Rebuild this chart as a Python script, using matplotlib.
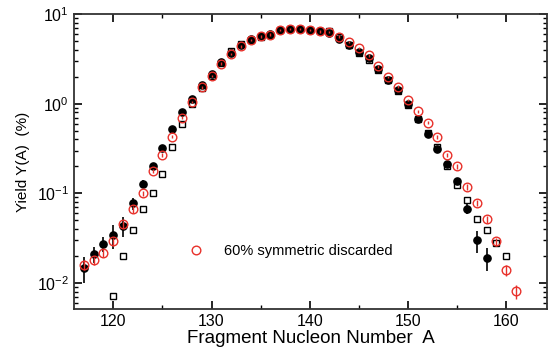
import numpy as np
import matplotlib
matplotlib.use('Agg')
import matplotlib.pyplot as plt
from matplotlib.lines import Line2D

plt.rcParams['font.family'] = ['Liberation Sans', 'DejaVu Sans']
plt.rcParams['mathtext.fontset'] = 'custom'
plt.rcParams['mathtext.rm'] = 'Liberation Sans'
plt.rcParams['mathtext.it'] = 'Liberation Sans'

# Rendements par nombre de masse A
A_red = list(range(117, 162))
Y_red = [0.016, 0.0178, 0.0218, 0.029, 0.045, 0.066, 0.10, 0.176, 0.27, 0.43,
         0.70, 1.05, 1.52, 2.05, 2.8, 3.58, 4.36, 5.17, 5.63, 5.9,
         6.6, 6.8, 6.85, 6.7, 6.4, 6.3, 5.6, 4.85, 4.15, 3.45,
         2.6, 1.98, 1.55, 1.1, 0.82, 0.61, 0.43, 0.27, 0.2, 0.118,
         0.078, 0.051, 0.029, 0.0139, 0.0081]
err_red = [0.12, 0.1, 0.1, 0.1, 0.1, 0.08, 0.06, 0.05, 0.05, 0.04,
           0.04, 0.03, 0.03, 0.03, 0.03, 0.03, 0.03, 0.03, 0.03, 0.03,
           0.03, 0.03, 0.03, 0.03, 0.03, 0.03, 0.03, 0.03, 0.03, 0.03,
           0.03, 0.03, 0.03, 0.03, 0.04, 0.04, 0.05, 0.05, 0.06, 0.07,
           0.08, 0.08, 0.1, 0.15, 0.18]

A_blk = list(range(117, 159))
Y_blk = [0.0148, 0.021, 0.0273, 0.034, 0.043, 0.077, 0.128, 0.2, 0.32, 0.52,
         0.81, 1.12, 1.6, 2.15, 2.9, 3.7, 4.5, 5.3, 5.75, 6.0,
         6.7, 6.9, 6.9, 6.7, 6.5, 6.2, 5.3, 4.5, 3.8, 3.2,
         2.45, 1.85, 1.42, 0.98, 0.67, 0.46, 0.31, 0.21, 0.136, 0.067,
         0.030, 0.019]
err_blk = [0.32, 0.2, 0.2, 0.3, 0.25, 0.15, 0.1, 0.06, 0.05, 0.05,
           0.04, 0.04, 0.04, 0.04, 0.04, 0.04, 0.04, 0.04, 0.04, 0.04,
           0.04, 0.04, 0.04, 0.04, 0.04, 0.04, 0.04, 0.04, 0.04, 0.04,
           0.04, 0.04, 0.04, 0.04, 0.04, 0.05, 0.05, 0.06, 0.08, 0.12,
           0.28, 0.28]

A_sq = list(range(120, 161))
Y_sq = [0.0071, 0.020, 0.039, 0.066, 0.101, 0.166, 0.33, 0.60, 1.0, 1.5,
        2.05, 2.85, 3.9, 4.6, 5.2, 5.6, 5.85, 6.6, 6.85, 6.85,
        6.7, 6.5, 6.4, 5.5, 4.5, 3.7, 3.1, 2.4, 1.85, 1.4,
        0.97, 0.68, 0.47, 0.33, 0.2, 0.125, 0.085, 0.052, 0.039, 0.0275,
        0.020]

fig = plt.figure(figsize=(5.48, 3.52), dpi=100)
ax = fig.add_axes([0.135, 0.122, 0.864, 0.838])

yb = np.array(Y_blk)
ax.errorbar(A_blk, yb, yerr=yb * np.array(err_blk), fmt='o', color='black',
            markersize=5.2, elinewidth=1.2, capsize=0, zorder=2)
ax.plot(A_sq, Y_sq, 's', mfc='none', mec='black', markersize=5, mew=1.0, zorder=3)
yr = np.array(Y_red)
ax.errorbar(A_red, yr, yerr=yr * np.array(err_red), fmt='o', mfc='none',
            mec='#e8302a', ecolor='#e8302a', markersize=6.2, mew=1.0,
            elinewidth=1.0, capsize=0, zorder=4)

ax.set_yscale('log')
ax.set_xlim(116.0, 164.2)
ax.set_ylim(0.0051, 10)
ax.set_xticks([120, 130, 140, 150, 160])
ax.set_xticks(np.arange(125, 165, 10), minor=True)

ax.tick_params(which='both', direction='in', top=True, right=True, labelsize=11.5)
ax.tick_params(which='major', length=6, width=1.2)
ax.tick_params(which='minor', length=3, width=1.0)
for s in ax.spines.values():
    s.set_linewidth(1.3)
    s.set_color('#333333')

ax.set_xlabel('Fragment Nucleon Number  A', fontsize=13.5, labelpad=1)
ax.set_ylabel('Yield Y(A)  (%)', fontsize=11, labelpad=5)

h = Line2D([], [], marker='o', linestyle='none', mfc='none', mec='#e8302a',
           markersize=6.2, mew=1.0)
ax.legend([h], ['60% symmetric discarded'], loc='center left',
          bbox_to_anchor=(0.2, 0.196), frameon=False, fontsize=10.5,
          handletextpad=0.9)

plt.savefig('out.png', dpi=100)
